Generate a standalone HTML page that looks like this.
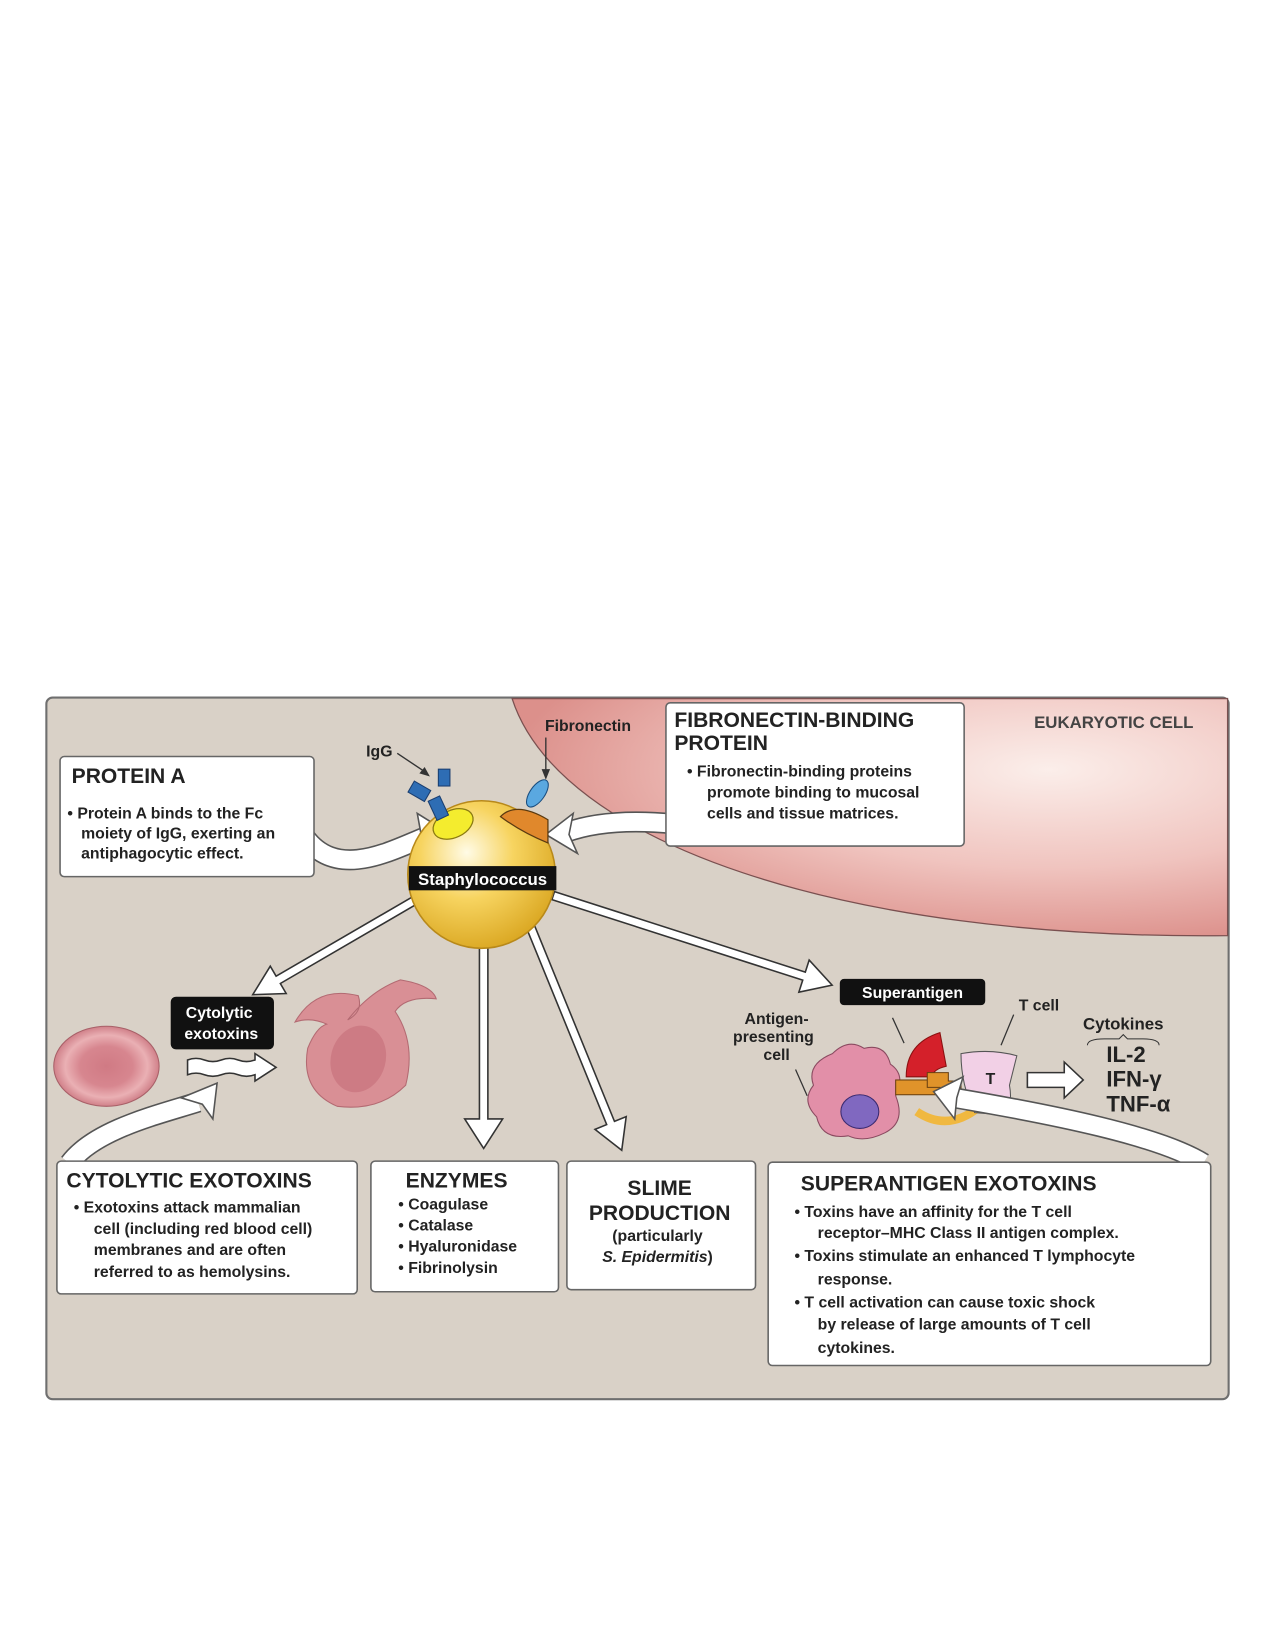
<!DOCTYPE html>
<html><head><meta charset="utf-8"><style>
html,body{margin:0;padding:0;background:#fff;}
svg{display:block;}
text{font-family:"Liberation Sans",Arial,sans-serif;font-weight:bold;fill:#222;}
.t{font-size:20px;}
.b{font-size:15px;}
</style></head><body>
<svg width="1275" height="1650" viewBox="0 0 1210 1566" preserveAspectRatio="none" xmlns="http://www.w3.org/2000/svg">
<defs>
<radialGradient id="pk" cx="0.75" cy="0.3" r="0.75">
<stop offset="0" stop-color="#fbeeea"/><stop offset="0.55" stop-color="#f0c4bf"/><stop offset="1" stop-color="#dc908b"/>
</radialGradient>
<radialGradient id="ye" cx="0.4" cy="0.35" r="0.7">
<stop offset="0" stop-color="#fffbe6"/><stop offset="0.45" stop-color="#f7d460"/><stop offset="1" stop-color="#d9a51f"/>
</radialGradient>
<radialGradient id="rbc" cx="0.5" cy="0.5" r="0.5">
<stop offset="0" stop-color="#d07a84"/><stop offset="0.5" stop-color="#d7868f"/><stop offset="0.78" stop-color="#eab0b4"/><stop offset="1" stop-color="#d08089"/>
</radialGradient>
</defs>
<rect x="44" y="662" width="1122" height="666" rx="6" fill="#d9d1c7" stroke="#6f6f6f" stroke-width="2"/>
<path d="M486,663 C530,800 800,892 1165,888 L1165,663 Z" fill="url(#pk)" stroke="#7a5050" stroke-width="1.2"/>
<text x="1057" y="691" text-anchor="middle" style="font-size:16px;fill:#444">EUKARYOTIC CELL</text>

<!-- curved arrows to coccus -->
<path d="M290,795 C320,835 370,808 402,795" fill="none" stroke="#555" stroke-width="20"/>
<path d="M290,795 C320,835 370,808 402,795" fill="none" stroke="#fff" stroke-width="17"/>
<polygon points="420,787 396,772 400,794 394,812" fill="#fff" stroke="#555" stroke-width="1.5"/>
<path d="M640,782 C600,778 565,780 537,790" fill="none" stroke="#555" stroke-width="20"/>
<path d="M640,782 C600,778 565,780 537,790" fill="none" stroke="#fff" stroke-width="17"/>
<polygon points="518,792 544,772 540,792 548,810" fill="#fff" stroke="#555" stroke-width="1.5"/>

<!-- Protein A box -->
<rect x="57" y="718" width="241" height="114" rx="4" fill="#fff" stroke="#666" stroke-width="1.5"/>
<text x="68" y="743" class="t">PROTEIN A</text>
<text x="64" y="777" class="b">• Protein A binds to the Fc</text>
<text x="77" y="796" class="b">moiety of IgG, exerting an</text>
<text x="77" y="815" class="b">antiphagocytic effect.</text>

<!-- Fibronectin box -->
<rect x="632" y="667" width="283" height="136" rx="4" fill="#fff" stroke="#666" stroke-width="1.5"/>
<text x="640" y="690" class="t">FIBRONECTIN-BINDING</text>
<text x="640" y="712" class="t">PROTEIN</text>
<text x="652" y="737" class="b">•  Fibronectin-binding proteins</text>
<text x="671" y="757" class="b">promote binding to mucosal</text>
<text x="671" y="777" class="b">cells and tissue matrices.</text>

<!-- straight arrows -->
<g fill="#fff" stroke="#333" stroke-width="1.5" stroke-linejoin="miter">
<polygon points="0,-4 155,-4 155,-15 183,0 155,15 155,4 0,4" transform="translate(398,852) rotate(149.8)"/>
<polygon points="-4,0 -4,170 -18,170 0,198 18,170 4,170 4,0" transform="translate(459,892)"/>
<polygon points="0,-4 205,-4 205,-16 233,0 205,16 205,4 0,4" transform="translate(502,876) rotate(67.8)"/>
<polygon points="0,-4 250,-4 250,-16 278,0 250,16 250,4 0,4" transform="translate(525,850) rotate(17.8)"/>
<polygon points="975,1018 1010,1018 1010,1008 1028,1025 1010,1042 1010,1032 975,1032"/>
<path d="M178,1006 q8,-3 16,0 t16,0 t16,0 t16,0 L242,1000 L262,1013 L242,1026 L242,1020 q-8,3 -16,0 t-16,0 t-16,0 t-16,0 Z"/>
</g>

<!-- Staphylococcus -->
<circle cx="457" cy="830" r="70" fill="url(#ye)" stroke="#b8891a" stroke-width="1.5"/>
<ellipse cx="430" cy="782" rx="20" ry="13" fill="#f4ec2e" stroke="#8a7a10" stroke-width="1.2" transform="rotate(-25 430 782)"/>
<path d="M475,775 Q490,760 520,778 L520,800 Q495,790 475,775Z" fill="#e0882c" stroke="#5a3a10" stroke-width="1.2"/>
<g fill="#2e6db4" stroke="#1a3e70" stroke-width="1">
<rect x="410" y="757" width="12" height="20" transform="rotate(-25 416 767)"/>
<rect x="389" y="745" width="18" height="12" transform="rotate(30 398 751)"/>
<rect x="416" y="730" width="11" height="16"/>
</g>
<ellipse cx="510" cy="753" rx="7" ry="15" fill="#5aa8e0" stroke="#1a4e80" stroke-width="1" transform="rotate(35 510 753)"/>
<rect x="388" y="822" width="140" height="23" fill="#111"/>
<text x="458" y="840" text-anchor="middle" style="font-size:16px;fill:#fff">Staphylococcus</text>
<text x="360" y="718" class="b" text-anchor="middle">IgG</text>
<line x1="377" y1="715" x2="404" y2="733" stroke="#333" stroke-width="1.3"/>
<polygon points="408,737 398,734 403,728" fill="#333"/>
<text x="558" y="694" class="b" text-anchor="middle">Fibronectin</text>
<line x1="518" y1="700" x2="518" y2="733" stroke="#333" stroke-width="1.3"/>
<polygon points="518,740 514,730 522,730" fill="#333"/>

<!-- RBCs -->
<ellipse cx="101" cy="1012" rx="50" ry="38" fill="url(#rbc)" stroke="#a86068" stroke-width="1"/>
<path d="M280,970 Q300,935 340,945 Q345,960 330,968 Q352,940 380,930 Q410,935 414,948 Q385,945 375,960 Q395,990 385,1030 Q360,1055 320,1050 Q285,1035 292,995 Q300,975 310,972 Q295,965 280,970Z" fill="#d98f95" stroke="#b36a72" stroke-width="1"/>
<ellipse cx="340" cy="1005" rx="26" ry="32" fill="#cd7b84" transform="rotate(15 340 1005)"/>
<rect x="162" y="946" width="98" height="50" rx="5" fill="#111"/>
<text x="208" y="966" text-anchor="middle" style="font-size:15px;fill:#fff">Cytolytic</text>
<text x="210" y="986" text-anchor="middle" style="font-size:15px;fill:#fff">exotoxins</text>

<!-- curved arrow from cytolytic box -->
<path d="M66,1104 C90,1072 150,1058 188,1046" fill="none" stroke="#555" stroke-width="20"/>
<path d="M66,1104 C90,1072 150,1058 188,1046" fill="none" stroke="#fff" stroke-width="17"/>
<polygon points="206,1028 202,1062 192,1048 172,1042" fill="#fff" stroke="#555" stroke-width="1.5"/>

<!-- Superantigen area -->
<rect x="797" y="929" width="138" height="25" rx="4" fill="#111"/>
<text x="866" y="947" text-anchor="middle" style="font-size:15px;fill:#fff">Superantigen</text>
<text x="737" y="972" class="b" text-anchor="middle">Antigen-</text>
<text x="734" y="989" class="b" text-anchor="middle">presenting</text>
<text x="737" y="1006" class="b" text-anchor="middle">cell</text>
<text x="986" y="959" class="b" text-anchor="middle">T cell</text>
<text x="1066" y="977" class="b" text-anchor="middle" style="font-size:16px">Cytokines</text>
<path d="M1032,992 q0,-6 16,-6 h14 l4,-4 l4,4 h14 q16,0 16,6" fill="none" stroke="#333" stroke-width="1"/>
<text x="1050" y="1008" style="font-size:21px">IL-2</text>
<text x="1050" y="1031" style="font-size:21px">IFN-γ</text>
<text x="1050" y="1055" style="font-size:21px">TNF-α</text>
<path d="M790,1000 Q805,985 820,995 Q840,990 845,1010 Q860,1020 850,1040 Q860,1065 840,1075 Q820,1085 805,1078 Q780,1082 775,1060 Q760,1045 772,1030 Q765,1010 790,1000Z" fill="#e28fa8" stroke="#8a4a60" stroke-width="1"/>
<ellipse cx="816" cy="1055" rx="18" ry="16" fill="#8068c0" stroke="#3a2a70" stroke-width="1"/>
<path d="M860,1022 Q860,990 892,980 L898,1012 Q885,1015 885,1022Z" fill="#d4202a" stroke="#8a1010" stroke-width="1"/>
<path d="M870,1055 Q900,1075 930,1050" fill="none" stroke="#f0b840" stroke-width="8"/>
<path d="M912,1000 Q940,995 965,1002 L958,1030 Q962,1052 950,1058 L925,1056 Q912,1030 912,1000Z" fill="#f2d0e6" stroke="#555" stroke-width="1"/>
<rect x="850" y="1025" width="45" height="14" fill="#e0932a" stroke="#6a4010" stroke-width="1"/>
<path d="M880,1018 h20 v8 h12 v14 h-20 v-8 h-12Z" fill="#e0932a" stroke="#6a4010" stroke-width="1"/>
<text x="940" y="1029" class="b" text-anchor="middle">T</text>
<line x1="847" y1="966" x2="858" y2="990" stroke="#333" stroke-width="1.2"/>
<line x1="962" y1="963" x2="950" y2="992" stroke="#333" stroke-width="1.2"/>
<line x1="755" y1="1015" x2="766" y2="1040" stroke="#333" stroke-width="1.2"/>
<path d="M1142,1104 C1100,1078 1000,1058 906,1042" fill="none" stroke="#555" stroke-width="20"/>
<path d="M1142,1104 C1100,1078 1000,1058 906,1042" fill="none" stroke="#fff" stroke-width="17"/>
<polygon points="886,1036 914,1022 908,1042 906,1062" fill="#fff" stroke="#555" stroke-width="1.5"/>

<!-- bottom boxes -->
<rect x="54" y="1102" width="285" height="126" rx="4" fill="#fff" stroke="#666" stroke-width="1.5"/>
<text x="63" y="1127" class="t">CYTOLYTIC EXOTOXINS</text>
<text x="70" y="1151" class="b">•  Exotoxins attack mammalian</text>
<text x="89" y="1171" class="b">cell (including red blood cell)</text>
<text x="89" y="1191" class="b">membranes and are often</text>
<text x="89" y="1212" class="b">referred to as hemolysins.</text>

<rect x="352" y="1102" width="178" height="124" rx="4" fill="#fff" stroke="#666" stroke-width="1.5"/>
<text x="385" y="1127" class="t">ENZYMES</text>
<text x="378" y="1148" class="b">• Coagulase</text>
<text x="378" y="1168" class="b">• Catalase</text>
<text x="378" y="1188" class="b">• Hyaluronidase</text>
<text x="378" y="1208" class="b">• Fibrinolysin</text>

<rect x="538" y="1102" width="179" height="122" rx="4" fill="#fff" stroke="#666" stroke-width="1.5"/>
<text x="626" y="1134" class="t" text-anchor="middle">SLIME</text>
<text x="626" y="1158" class="t" text-anchor="middle">PRODUCTION</text>
<text x="624" y="1178" class="b" text-anchor="middle">(particularly</text>
<text x="624" y="1198" class="b" text-anchor="middle"><tspan font-style="italic">S. Epidermitis</tspan>)</text>

<rect x="729" y="1103" width="420" height="193" rx="4" fill="#fff" stroke="#666" stroke-width="1.5"/>
<text x="760" y="1130" class="t">SUPERANTIGEN EXOTOXINS</text>
<text x="754" y="1155" class="b">•  Toxins have an affinity for the T cell</text>
<text x="776" y="1175" class="b">receptor–MHC Class II antigen complex.</text>
<text x="754" y="1197" class="b">•  Toxins stimulate an enhanced T lymphocyte</text>
<text x="776" y="1219" class="b">response.</text>
<text x="754" y="1241" class="b">•  T cell activation can cause toxic shock</text>
<text x="776" y="1262" class="b">by release of large amounts of T cell</text>
<text x="776" y="1284" class="b">cytokines.</text>
</svg>
</body></html>
